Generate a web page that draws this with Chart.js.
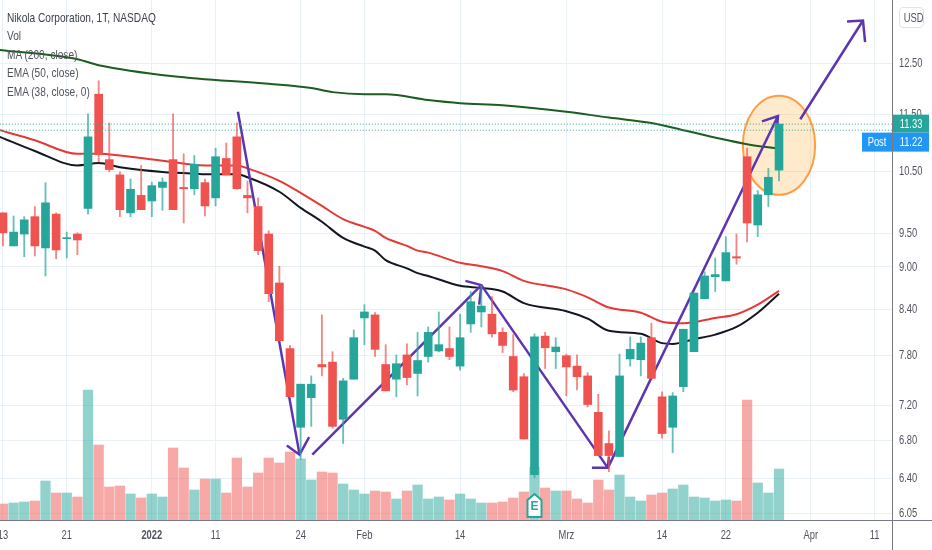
<!DOCTYPE html><html lang="de">
<head>
  <meta charset="UTF-8" />
  <title>Nikola Corporation, 1T, NASDAQ</title>
  <script src="https://cdn.jsdelivr.net/npm/chart.js"></script>
  <style>
    body { margin: 0; background: #fff; overflow: hidden; }
    #wrap { position: relative; width: 932px; height: 550px; }
    canvas { display: block; }
    #legend {
      position: absolute; left: 7px; top: 9px;
      font: 13px/18.4px 'Liberation Sans', sans-serif;
      color: #50535e; transform: scaleX(0.78); transform-origin: left top; white-space: nowrap;
    }
    #legend div:first-child { color: #3c404b; }
    #usd {
      position: absolute; left: 899px; top: 7px; width: 23px; height: 19px;
      border: 1px solid #e0e3eb; border-radius: 4px; text-align: center;
      font: 13px/19px 'Liberation Sans', sans-serif; color: #50535e;
    }
    #usd span { display: inline-block; transform: scaleX(0.72); }
  </style>
</head>
<body>
  <div id="wrap">
    <canvas id="chart" width="932" height="550"></canvas>
    <div id="legend">
      <div>Nikola Corporation, 1T, NASDAQ</div>
      <div>Vol</div>
      <div>MA (200, close)</div>
      <div>EMA (50, close)</div>
      <div>EMA (38, close, 0)</div>
    </div>
    <div id="usd"><span>USD</span></div>
  </div>
  <script>
    const xTickIndex = [0, 6, 14, 20, 28, 34, 43, 53, 62, 68, 76, 82];
    const xTickLabels = ['13', '21', '2022', '11', '24', 'Feb', '14', 'Mrz', '14', '22', 'Apr', '11'];
    const priceTicks = [6.05, 6.4, 6.8, 7.2, 7.8, 8.4, 9, 9.5, 10.5, 11.5, 12.5];

    const opens = [9.82, 9.31, 9.49, 9.76, 9.28, 9.80, 9.42, 9.49, 9.89, 11.89, 10.70, 10.44, 9.82, 10.10, 10.01, 10.23, 10.70, 10.23, 10.21, 10.31, 10.06, 10.72, 11.10, 10.10, 9.92, 9.49, 8.77, 7.89, 6.95, 7.29, 7.69, 7.72, 7.04, 7.51, 8.29, 8.33, 7.69, 7.51, 7.81, 7.58, 7.79, 7.86, 7.89, 7.67, 8.21, 8.37, 8.34, 8.10, 7.79, 7.54, 6.44, 8.05, 7.85, 7.80, 7.67, 7.55, 7.12, 6.77, 6.63, 7.76, 7.75, 8.03, 7.30, 6.95, 7.42, 7.85, 8.55, 8.86, 8.80, 9.15, 10.75, 9.63, 10.11, 10.52];
    const highs = [9.82, 9.77, 9.76, 9.92, 10.31, 9.82, 9.52, 9.51, 11.52, 12.15, 11.35, 10.49, 10.37, 10.60, 10.32, 10.39, 11.52, 10.80, 10.77, 10.37, 10.90, 10.99, 11.35, 10.34, 10.06, 9.54, 9.01, 7.93, 7.45, 7.55, 8.33, 7.85, 7.52, 8.13, 8.47, 8.36, 7.94, 7.81, 7.95, 8.10, 8.17, 8.37, 8.17, 8.34, 8.65, 8.74, 8.58, 8.16, 8.07, 7.58, 8.08, 8.10, 8.03, 7.82, 7.81, 7.59, 7.33, 6.91, 7.82, 8.04, 8.04, 8.22, 7.36, 7.35, 8.14, 8.63, 8.93, 9.13, 9.45, 9.49, 10.90, 10.18, 10.55, 11.33];
    const lows = [9.31, 9.31, 9.15, 9.16, 8.87, 9.12, 9.13, 9.18, 9.80, 10.66, 10.49, 9.76, 9.76, 9.87, 9.76, 9.86, 9.87, 9.66, 10.11, 9.77, 9.93, 10.44, 10.20, 9.82, 9.18, 8.51, 7.99, 7.30, 6.60, 6.96, 7.55, 6.94, 6.77, 7.51, 7.94, 7.79, 7.37, 7.30, 7.44, 7.31, 7.72, 7.85, 7.75, 7.62, 8.10, 8.17, 8.04, 7.84, 7.36, 6.82, 6.41, 7.64, 7.64, 7.31, 7.38, 7.18, 6.64, 6.47, 6.63, 7.67, 7.55, 7.52, 6.83, 6.67, 7.36, 7.85, 8.55, 8.65, 8.80, 9.04, 9.37, 9.45, 9.92, 10.34];
    const closes = [9.51, 9.52, 9.71, 9.31, 9.98, 9.25, 9.43, 9.40, 11.10, 10.79, 10.53, 9.87, 10.20, 9.87, 10.26, 10.32, 9.87, 10.21, 10.62, 9.93, 10.75, 10.44, 10.21, 10.06, 9.24, 8.62, 7.99, 7.30, 7.45, 7.45, 7.66, 6.96, 7.49, 8.03, 8.37, 7.88, 7.37, 7.70, 7.53, 7.74, 8.10, 7.94, 7.79, 8.03, 8.51, 8.45, 8.08, 7.93, 7.38, 6.82, 8.04, 7.90, 7.91, 7.66, 7.54, 7.21, 6.64, 6.64, 7.55, 7.88, 7.96, 7.52, 6.88, 7.31, 8.14, 8.63, 8.87, 8.89, 9.21, 9.13, 9.66, 10.11, 10.40, 11.33];
    const volumes = [1.6, 1.7, 1.8, 1.9, 3.9, 2.7, 2.7, 2.3, 13.0, 7.5, 3.3, 3.4, 2.6, 2.2, 2.6, 2.3, 7.2, 5.2, 3.0, 4.1, 4.1, 2.7, 6.2, 3.3, 4.7, 6.2, 5.7, 6.8, 6.1, 4.0, 4.8, 4.7, 3.6, 3.0, 2.6, 2.9, 2.8, 2.1, 2.9, 3.5, 2.1, 2.3, 2.0, 2.6, 2.1, 1.7, 1.7, 1.8, 2.2, 2.8, 5.3, 3.2, 2.9, 2.9, 2.1, 1.7, 4.0, 3.0, 4.5, 2.3, 1.9, 2.5, 2.7, 3.1, 3.5, 2.3, 2.2, 1.9, 2.0, 1.9, 12.0, 3.7, 2.7, 5.1];

    const ma200X = [-0.3, 7, 9, 16, 25, 29, 31, 34, 36, 40, 43, 47, 53, 57, 61, 64, 70, 73];
    const ma200Y = [12.77, 12.58, 12.46, 12.24, 12.09, 12.01, 11.93, 11.89, 11.89, 11.78, 11.72, 11.68, 11.56, 11.45, 11.35, 11.22, 10.97, 10.89];
    const ema50X = [-0.3, 3, 7, 9, 11, 15, 19, 22, 23, 26, 28, 30, 32, 34, 35, 36, 38, 39, 40, 43, 45, 47, 49, 53, 55, 57, 60, 62, 64, 67, 69, 71, 73];
    const ema50Y = [11.22, 11.04, 10.80, 10.80, 10.77, 10.68, 10.60, 10.60, 10.55, 10.34, 10.14, 9.93, 9.72, 9.60, 9.54, 9.43, 9.31, 9.24, 9.21, 9.06, 9.01, 8.94, 8.80, 8.68, 8.57, 8.43, 8.36, 8.24, 8.22, 8.29, 8.34, 8.47, 8.66];
    const ema38X = [-0.3, 3, 7, 9, 11, 15, 17, 19, 22, 23, 26, 28, 30, 32, 34, 35, 36, 38, 39, 40, 43, 45, 47, 49, 53, 55, 57, 60, 62, 63, 65, 67, 69, 71, 73];
    const ema38Y = [11.10, 10.85, 10.60, 10.64, 10.57, 10.49, 10.47, 10.45, 10.45, 10.40, 10.16, 9.90, 9.68, 9.43, 9.30, 9.24, 9.10, 8.98, 8.91, 8.87, 8.73, 8.70, 8.65, 8.49, 8.38, 8.28, 8.12, 8.08, 7.96, 7.95, 8.01, 8.07, 8.17, 8.36, 8.62];

    // hand drawn arrows of the original, null = pen up
    const arrowX = [22.1, 27.9, null, 26.7, 27.9, 28.8, null, 29.1, 45.0, null, 43.5, 45.0, 44.8, null, 45.0, 56.9, null, 55.4, 56.9, 57.0, null, 56.9, 72.9, null, 71.4, 72.9, 72.8, null, 75.0, 80.9, null, 79.4, 80.9, 81.1];
    const arrowY = [11.56, 6.65, null, 6.75, 6.65, 6.84, null, 6.65, 8.74, null, 8.80, 8.74, 8.47, null, 8.74, 6.51, null, 6.51, 6.51, 6.63, null, 6.51, 11.48, null, 11.38, 11.48, 11.19, null, 11.42, 13.39, null, 13.37, 13.39, 12.93];
    const ellipseX = [69.6, 76.4];
    const ellipseY = [10.11, 11.86];

    const lastClose = 11.33;
    const postPrice = 11.22;
    const earningsIndex = 50;

    const GREEN = '#26a69a', RED = '#ef5350', PURPLE = '#5e35b1', GRID = '#e9f0f6', AXIS = '#787b86', LABEL = '#50535e';
    const FONT = "'Liberation Sans', sans-serif";
    const SQUEEZE = 0.72; // the original's axis font is much narrower than anything installed

    const isUp = i => closes[i] >= opens[i];
    const zip = (xs, ys) => xs.map((x, i) => ({ x, y: ys[i] }));
    const lineSet = (xs, ys, color, order) => ({
      type: 'line', data: zip(xs, ys), borderColor: color, borderWidth: 2,
      pointRadius: 0, cubicInterpolationMode: 'monotone', order
    });
    const priceLine = (value) => ({
      type: 'line', data: [{ x: -0.3, y: value }, { x: 83.7, y: value }], borderColor: GREEN,
      borderWidth: 1, borderDash: [1, 2], pointRadius: 0, order: 0
    });

    function squeezedText(ctx, text, x, y) {
      ctx.save();
      ctx.translate(x, y);
      ctx.scale(SQUEEZE, 1);
      ctx.fillText(text, 0, 0);
      ctx.restore();
    }

    const overlay = {
      id: 'overlay',
      beforeDatasetsDraw(chart) {
        const { ctx, scales: { x, y } } = chart;
        const cx = (x.getPixelForValue(ellipseX[0]) + x.getPixelForValue(ellipseX[1])) / 2;
        const rx = (x.getPixelForValue(ellipseX[1]) - x.getPixelForValue(ellipseX[0])) / 2;
        const cy = (y.getPixelForValue(ellipseY[0]) + y.getPixelForValue(ellipseY[1])) / 2;
        const ry = (y.getPixelForValue(ellipseY[0]) - y.getPixelForValue(ellipseY[1])) / 2;
        ctx.save();
        ctx.beginPath();
        ctx.ellipse(cx, cy, rx, ry, 0, 0, Math.PI * 2);
        ctx.fillStyle = 'rgba(255, 152, 0, 0.2)';
        ctx.fill();
        ctx.lineWidth = 2;
        ctx.strokeStyle = '#ff9d45';
        ctx.stroke();
        ctx.restore();
      },
      afterDraw(chart) {
        const { ctx, chartArea: area, scales: { x, y } } = chart;
        ctx.save();
        // axis lines run past the plot
        ctx.strokeStyle = AXIS;
        ctx.lineWidth = 1;
        ctx.beginPath();
        ctx.moveTo(area.right + 0.5, 0);
        ctx.lineTo(area.right + 0.5, 550);
        ctx.moveTo(0, area.bottom + 0.5);
        ctx.lineTo(932, area.bottom + 0.5);
        ctx.stroke();

        // tick labels
        ctx.textBaseline = 'middle';
        ctx.fillStyle = LABEL;
        ctx.textAlign = 'center';
        x.ticks.forEach(t => {
          ctx.font = (t.value === 14 ? 'bold ' : '') + '13px ' + FONT;
          squeezedText(ctx, t.label, x.getPixelForValue(t.value), area.bottom + 15);
        });
        ctx.textAlign = 'left';
        ctx.font = '13px ' + FONT;
        y.ticks.forEach(t => squeezedText(ctx, t.label, area.right + 7, y.getPixelForValue(t.value)));

        // price labels
        const top = y.getPixelForValue(lastClose) - 9.5;
        ctx.fillStyle = GREEN;
        ctx.fillRect(area.right + 1, top, 36, 18);
        ctx.fillStyle = '#2196f3';
        ctx.fillRect(area.right + 1, top + 18, 36, 19);
        ctx.fillRect(area.right - 30, top + 18, 30, 19);
        ctx.fillStyle = '#fff';
        ctx.textAlign = 'center';
        squeezedText(ctx, lastClose.toFixed(2), area.right + 19, top + 9.5);
        squeezedText(ctx, postPrice.toFixed(2), area.right + 19, top + 28);
        squeezedText(ctx, 'Post', area.right - 15, top + 28);

        // earnings badge
        const ex = x.getPixelForValue(earningsIndex);
        const b = area.bottom - 3;
        ctx.beginPath();
        ctx.moveTo(ex - 7, b);
        ctx.lineTo(ex + 7, b);
        ctx.lineTo(ex + 7, b - 17);
        ctx.lineTo(ex, b - 23);
        ctx.lineTo(ex - 7, b - 17);
        ctx.closePath();
        ctx.fillStyle = '#fff';
        ctx.fill();
        ctx.lineWidth = 2;
        ctx.strokeStyle = GREEN;
        ctx.stroke();
        ctx.fillStyle = GREEN;
        ctx.font = 'bold 12px ' + FONT;
        ctx.fillText('E', ex, b - 10);
        ctx.restore();
      }
    };

    new Chart(document.getElementById('chart'), {
      type: 'bar',
      plugins: [overlay],
      data: {
        datasets: [
          priceLine(lastClose),
          priceLine(postPrice),
          {
            data: opens.map((o, i) => ({ x: i, y: [o, closes[i]] })),
            backgroundColor: opens.map((o, i) => isUp(i) ? GREEN : RED),
            barThickness: 8, grouped: false, minBarLength: 1, order: 1
          },
          {
            data: highs.map((h, i) => ({ x: i, y: [lows[i], h] })),
            backgroundColor: highs.map((h, i) => isUp(i) ? 'rgba(38,166,154,0.7)' : 'rgba(239,83,80,0.7)'),
            barThickness: 1.2, grouped: false, order: 2
          },
          {
            type: 'line', data: zip(arrowX, arrowY), borderColor: PURPLE, borderWidth: 2.5,
            pointRadius: 0, spanGaps: false, tension: 0, order: 3
          },
          lineSet(ma200X, ma200Y, '#1b5e20', 4),
          lineSet(ema50X, ema50Y, '#e53935', 4),
          lineSet(ema38X, ema38Y, '#131722', 4),
          {
            data: volumes.map((v, i) => ({ x: i, y: v })),
            yAxisID: 'yVol',
            backgroundColor: volumes.map((v, i) => isUp(i) ? 'rgba(38,166,154,0.5)' : 'rgba(239,83,80,0.5)'),
            barThickness: 9.6, grouped: false, order: 6
          }
        ]
      },
      options: {
        responsive: false,
        animation: false,
        layout: { padding: 0 },
        plugins: { legend: { display: false }, tooltip: { enabled: false } },
        scales: {
          x: {
            type: 'linear', min: -0.28, max: 83.63, offset: false,
            afterBuildTicks: s => { s.ticks = xTickIndex.map(value => ({ value })); },
            afterFit: s => { s.height = 30; },
            grid: { color: GRID, drawTicks: false, offset: false },
            border: { display: false },
            ticks: { display: false, autoSkip: false, callback: v => xTickLabels[xTickIndex.indexOf(v)] }
          },
          y: {
            type: 'logarithmic', position: 'right', min: 5.985, max: 13.84,
            afterBuildTicks: s => { s.ticks = priceTicks.map(value => ({ value })); },
            afterFit: s => { s.width = 40; },
            grid: { color: GRID, drawTicks: false },
            border: { display: false },
            ticks: { display: false, autoSkip: false, callback: v => v.toFixed(2) }
          },
          yVol: { type: 'linear', display: false, min: 0, max: 52 }
        }
      }
    });
  </script>
</body>
</html>
